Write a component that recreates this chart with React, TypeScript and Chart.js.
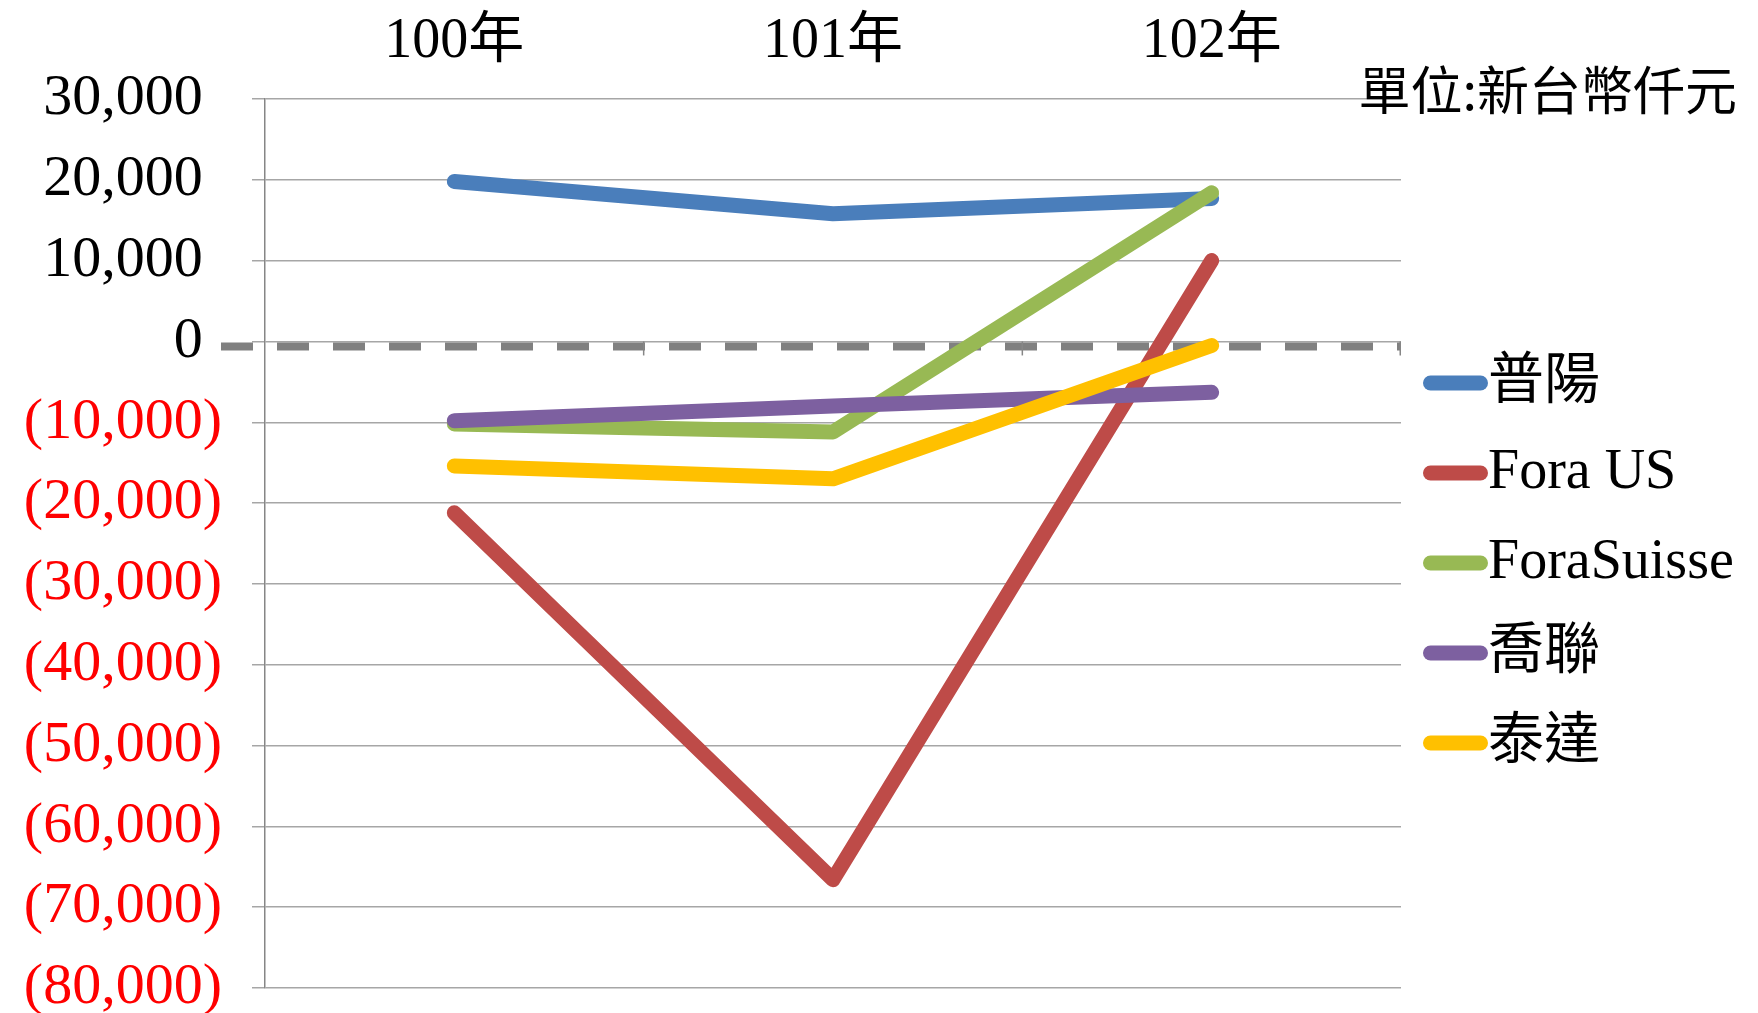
import React, { useEffect, useRef } from 'react';
import { Chart, registerables } from 'chart.js';

Chart.register(...registerables);

// ---------- data ----------
const categories = ['100年', '101年', '102年'];
const seriesNames = ['普陽', 'Fora US', 'ForaSuisse', '喬聯', '泰達'];
const puyang = [19800, 15800, 17700];
const foraUS = [-21200, -66600, 10000];
const foraSuisse = [-10200, -11200, 18400];
const qiaolian = [-9800, -8000, -6300];
const taida = [-15400, -17000, -500];
const seriesValues = [puyang, foraUS, foraSuisse, qiaolian, taida];
const yMin = -80000;
const yMax = 30000;
const yStep = 10000;
const unitLabel = '單位:新台幣仟元';

// ---------- style ----------
const seriesColors = ['#4A7EBB', '#BE4B48', '#98B954', '#7D60A0', '#FFC000'];
const W = 1758;
const H = 1013;
const FAMILY = "'Liberation Serif', 'Noto Sans CJK TC', serif";
const LEGEND_FONT = 56;
const LEGEND_PAD = 34;
const LEGEND_BOX = 25;
const PLOT_LEFT = 265;
const PLOT_TOP = 99;
const PLOT_RIGHT = 1401;
const PAD_BOTTOM = 25;

function makeSwatch(color: string): HTMLCanvasElement {
  const c = document.createElement('canvas');
  c.width = 81;
  c.height = 16;
  const g = c.getContext('2d')!;
  g.strokeStyle = color;
  g.lineWidth = 15;
  g.lineCap = 'round';
  g.beginPath();
  g.moveTo(16 + 7.5, 8);
  g.lineTo(81 - 7.5, 8);
  g.stroke();
  return c;
}

const fmt = (v: number) => Math.abs(v).toLocaleString('en-US');

const zeroAxisPlugin = {
  id: 'zeroAxis',
  beforeDatasetsDraw(chart: any) {
    const { ctx, chartArea, scales } = chart;
    const y0 = scales.y.getPixelForValue(0);
    ctx.save();
    ctx.strokeStyle = '#808080';
    ctx.lineWidth = 8;
    ctx.setLineDash([32, 24]);
    ctx.beginPath();
    ctx.moveTo(chartArea.left - 44, y0 + 5);
    ctx.lineTo(chartArea.right, y0 + 5);
    ctx.stroke();
    ctx.setLineDash([]);
    ctx.lineWidth = 1.5;
    ctx.strokeStyle = '#868686';
    const xs = scales.x;
    const n = categories.length;
    for (let i = 0; i < n; i++) {
      const b = i < n - 1 ? (xs.getPixelForValue(i) + xs.getPixelForValue(i + 1)) / 2 : chartArea.right - 0.75;
      ctx.beginPath();
      ctx.moveTo(b, y0);
      ctx.lineTo(b, y0 + 14);
      ctx.stroke();
    }
    ctx.restore();
  },
  afterDraw(chart: any) {
    const { ctx } = chart;
    ctx.save();
    ctx.font = "52px 'Noto Sans CJK TC'";
    ctx.fillStyle = '#000';
    ctx.textAlign = 'right';
    ctx.textBaseline = 'middle';
    ctx.fillText(unitLabel, 1737, 90);
    ctx.restore();
  },
};

export default function App() {
  const ref = useRef<HTMLCanvasElement | null>(null);

  useEffect(() => {
    document.body.style.margin = '0';
    const canvas = ref.current;
    if (!canvas) return;

    // measure widest legend label to place the legend exactly
    const m = document.createElement('canvas').getContext('2d')!;
    m.font = `normal ${LEGEND_FONT}px ${FAMILY}`;
    const maxText = Math.max(...seriesNames.map((s) => m.measureText(s).width));
    const legendWidth = LEGEND_PAD + LEGEND_BOX + LEGEND_FONT / 2 + maxText + 10;
    const padRight = Math.max(0, W - PLOT_RIGHT - legendWidth);

    const swatches = seriesColors.map(makeSwatch);

    const chart = new Chart(canvas, {
      type: 'line',
      data: {
        labels: categories,
        datasets: seriesValues.map((vals, i) => ({
          label: seriesNames[i],
          data: vals,
          borderColor: seriesColors[i],
          backgroundColor: seriesColors[i],
          borderWidth: 15,
          borderCapStyle: 'round',
          borderJoinStyle: 'round',
          pointRadius: 0,
          pointHoverRadius: 0,
          tension: 0,
          fill: false,
          order: seriesValues.length - 1 - i,
        })),
      },
      options: {
        responsive: false,
        animation: false,
        events: [],
        layout: { padding: { left: 0, top: 0, right: padRight, bottom: PAD_BOTTOM } },
        scales: {
          x: {
            type: 'category',
            position: 'top',
            offset: true,
            grid: { display: false },
            border: { display: false },
            ticks: {
              font: { family: FAMILY, size: 56 },
              color: '#000',
              padding: 15,
              maxRotation: 0,
              autoSkip: false,
            },
            afterFit: (s: any) => {
              s.height = PLOT_TOP;
              s.paddingLeft = 0;
              s.paddingRight = 0;
            },
          },
          y: {
            position: 'left',
            min: yMin,
            max: yMax,
            grid: { color: '#A6A6A6', lineWidth: 1.5, tickLength: 13 },
            border: { display: true, color: '#868686', width: 1.5 },
            ticks: {
              stepSize: yStep,
              maxTicksLimit: 20,
              autoSkip: false,
              padding: 30,
              font: { family: FAMILY, size: 58 },
              color: (c: any) => (c.tick && c.tick.value < 0 ? '#FF0000' : '#000000'),
              callback: (v: any) => (Number(v) < 0 ? `(${fmt(Number(v))})` : `${fmt(Number(v))}\u2004`),
            },
            afterFit: (s: any) => {
              s.width = PLOT_LEFT;
              s.paddingTop = 0;
              s.paddingBottom = 0;
            },
          },
        },
        plugins: {
          tooltip: { enabled: false },
          legend: {
            display: true,
            position: 'right',
            align: 'start',
            title: {
              display: true,
              text: ' ',
              font: { size: 10 },
              padding: { top: 309, bottom: 0 },
            },
            labels: {
              usePointStyle: true,
              boxWidth: LEGEND_BOX,
              boxHeight: 15,
              padding: LEGEND_PAD,
              color: '#000',
              font: { family: FAMILY, size: LEGEND_FONT },
              generateLabels: (ch: any) =>
                ch.data.datasets.map((ds: any, i: number) => ({
                  text: ds.label,
                  fillStyle: ds.borderColor,
                  strokeStyle: ds.borderColor,
                  lineWidth: 0,
                  pointStyle: swatches[i],
                  datasetIndex: i,
                  hidden: false,
                  fontColor: '#000',
                })),
            },
          },
        },
      },
      plugins: [zeroAxisPlugin],
    } as any);

    return () => {
      chart.destroy();
    };
  }, []);

  return (
    <div style={{ position: 'absolute', left: 0, top: 0, width: W, height: H, background: '#fff' }}>
      <canvas ref={ref} width={W} height={H} style={{ display: 'block', width: W, height: H }} />
    </div>
  );
}
